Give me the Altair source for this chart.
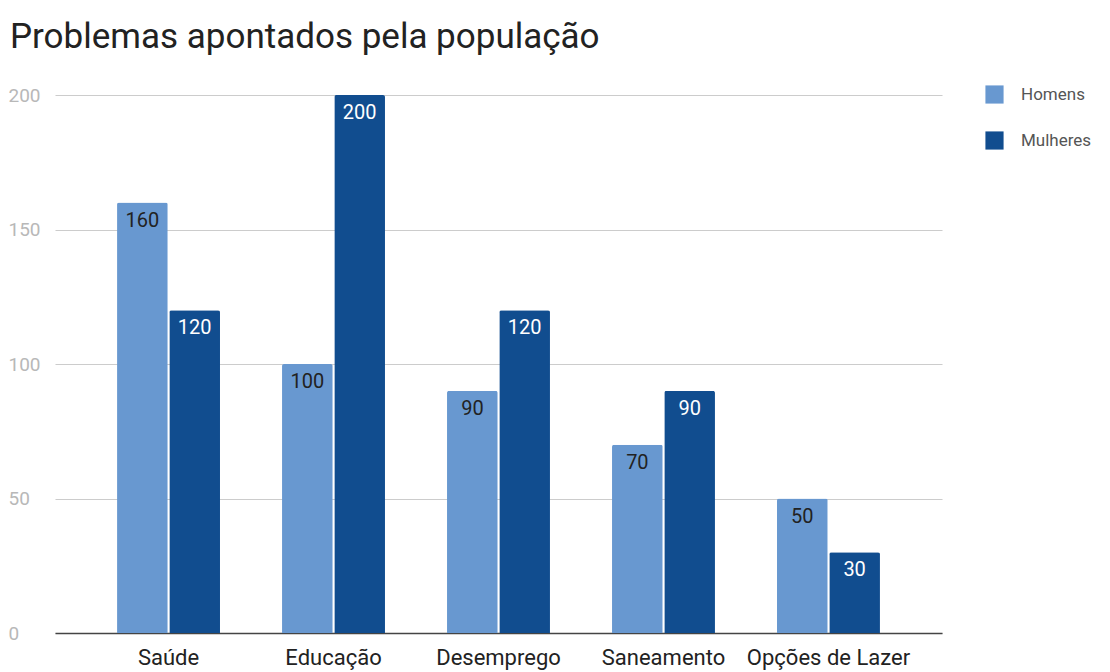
import altair as alt
import pandas as pd

categories = ["Saúde", "Educação", "Desemprego", "Saneamento", "Opções de Lazer"]
homens = [160, 100, 90, 70, 50]
mulheres = [120, 200, 120, 90, 30]
series = ["Homens", "Mulheres"]
y_ticks = [0, 50, 100, 150, 200]

rows = []
for c, h, m in zip(categories, homens, mulheres):
    rows.append({"cat": c, "grupo": "Homens", "valor": h})
    rows.append({"cat": c, "grupo": "Mulheres", "valor": m})
df = pd.DataFrame(rows)

FONT = "Roboto"

x = alt.X("cat:N", sort=categories, title=None,
          scale=alt.Scale(paddingInner=0.376, paddingOuter=0.376),
          axis=alt.Axis(labelAngle=0, labelFontSize=22, labelColor="#222", labelFont=FONT,
                        labelPadding=14, ticks=False, domain=True, domainColor="#444",
                        domainWidth=1.5, grid=False))
y = alt.Y("valor:Q", title=None,
          scale=alt.Scale(domain=[0, 200], nice=False),
          axis=alt.Axis(values=y_ticks, labelFontSize=19, labelColor="#b8b8b8", labelFont=FONT,
                        labelAlign="left", labelPadding=47, ticks=False, domain=False,
                        grid=True, gridColor="#cccccc", gridWidth=1.2))
xo = alt.XOffset("grupo:N", sort=series, scale=alt.Scale(paddingInner=0.03))

base = alt.Chart(df).encode(x=x, xOffset=xo)

bars = base.mark_bar(cornerRadiusTopLeft=2, cornerRadiusTopRight=2).encode(
    y=y,
    color=alt.Color("grupo:N", sort=series, title=None,
                    scale=alt.Scale(domain=series, range=["#6898d0", "#114d8f"]),
                    legend=alt.Legend(orient="none", legendX=930, legendY=-10,
                                      symbolType="square", symbolSize=330,
                                      symbolStrokeWidth=0, rowPadding=27,
                                      labelFontSize=17, labelColor="#555",
                                      labelFont=FONT, labelOffset=17)),
)

labels = base.mark_text(fontSize=20, font=FONT, dy=18, baseline="middle").encode(
    y=alt.Y("valor:Q"),
    text=alt.Text("valor:Q"),
    color=alt.Color("grupo:N", scale=alt.Scale(domain=series, range=["#222222", "#ffffff"]),
                    legend=None),
)

chart = alt.layer(bars, labels).resolve_scale(color="independent").properties(
    width=887, height=538,
    autosize=alt.AutoSizeParams(type="none"),
    padding={"left": 47, "top": 87, "right": 160, "bottom": 41},
    title=alt.TitleParams("Problemas apontados pela população", anchor="start",
                          fontSize=35, font=FONT, fontWeight="normal", color="#222",
                          dx=2, offset=30),
).configure_view(stroke=None)

chart.save("out.html", embed_options={"renderer": "svg", "actions": False})
